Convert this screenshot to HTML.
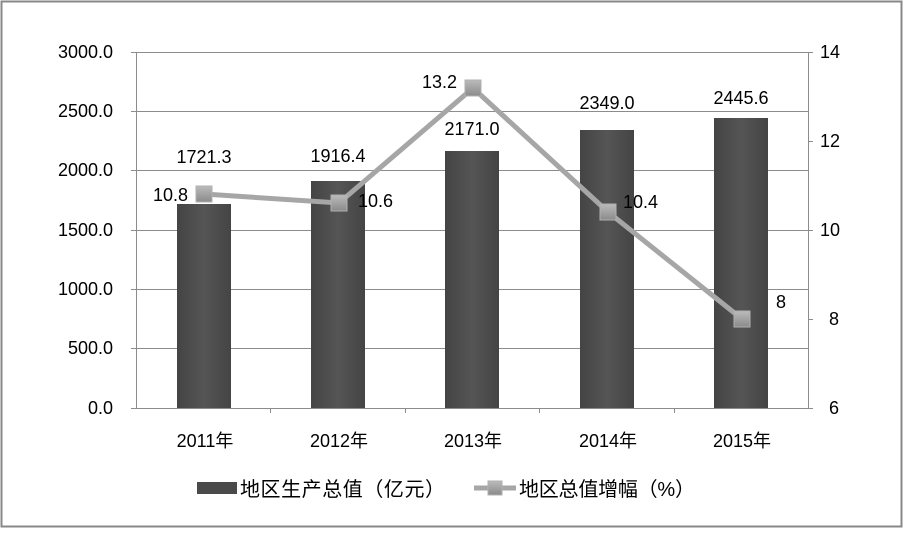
<!DOCTYPE html>
<html><head><meta charset="utf-8"><style>
body{margin:0;background:#fff}
svg text{font-family:"Liberation Sans","Noto Sans CJK SC",sans-serif;font-size:18px;fill:#000}
</style></head><body>
<svg width="903" height="528" xmlns="http://www.w3.org/2000/svg">
<defs>
<linearGradient id="bg" x1="0" x2="1"><stop offset="0" stop-color="#444"/><stop offset="0.5" stop-color="#555"/><stop offset="1" stop-color="#444"/></linearGradient>
<linearGradient id="mg" x1="0" y1="0" x2="0" y2="1"><stop offset="0" stop-color="#bbb"/><stop offset="1" stop-color="#8a8a8a"/></linearGradient>
</defs>
<rect x="1.5" y="1.5" width="900" height="525" fill="#fff" stroke="#888" stroke-width="2"/>
<g stroke="#8c8c8c" stroke-width="1">
<line x1="136" y1="52.5" x2="808" y2="52.5"/>
<line x1="136" y1="111.5" x2="808" y2="111.5"/>
<line x1="136" y1="170.5" x2="808" y2="170.5"/>
<line x1="136" y1="230.5" x2="808" y2="230.5"/>
<line x1="136" y1="289.5" x2="808" y2="289.5"/>
<line x1="136" y1="348.5" x2="808" y2="348.5"/>
<line x1="131" y1="408.5" x2="808" y2="408.5"/>
<line x1="136.5" y1="52" x2="136.5" y2="408"/>
<line x1="808.5" y1="52" x2="808.5" y2="408"/>
<g>
<line x1="131" y1="52.5" x2="136" y2="52.5"/><line x1="131" y1="111.5" x2="136" y2="111.5"/><line x1="131" y1="170.5" x2="136" y2="170.5"/><line x1="131" y1="230.5" x2="136" y2="230.5"/><line x1="131" y1="289.5" x2="136" y2="289.5"/><line x1="131" y1="348.5" x2="136" y2="348.5"/>
<line x1="808" y1="52.5" x2="813" y2="52.5"/><line x1="808" y1="141.5" x2="813" y2="141.5"/><line x1="808" y1="230.5" x2="813" y2="230.5"/><line x1="808" y1="319.5" x2="813" y2="319.5"/><line x1="808" y1="408.5" x2="813" y2="408.5"/>
<line x1="270.5" y1="408" x2="270.5" y2="413"/><line x1="405.5" y1="408" x2="405.5" y2="413"/><line x1="539.5" y1="408" x2="539.5" y2="413"/><line x1="674.5" y1="408" x2="674.5" y2="413"/>
</g>
</g>
<g fill="url(#bg)">
<rect x="177" y="204" width="54" height="204"/>
<rect x="311" y="181" width="54" height="227"/>
<rect x="445" y="151" width="54" height="257"/>
<rect x="580" y="130" width="54" height="278"/>
<rect x="714" y="118" width="54" height="290"/>
</g>
<g text-anchor="end">
<text x="113" y="58">3000.0</text><text x="113" y="117">2500.0</text><text x="113" y="176">2000.0</text><text x="113" y="236">1500.0</text><text x="113" y="295">1000.0</text><text x="113" y="354">500.0</text><text x="113" y="414">0.0</text>
</g>
<g>
<text x="820" y="58">14</text><text x="820" y="147">12</text><text x="820" y="236">10</text><text x="829" y="325">8</text><text x="829" y="414">6</text>
</g>
<g text-anchor="middle">
<text x="205" y="447">2011年</text><text x="339" y="447">2012年</text><text x="473" y="447">2013年</text><text x="608" y="447">2014年</text><text x="742" y="447">2015年</text>
<text x="204" y="163">1721.3</text><text x="338" y="162">1916.4</text><text x="472" y="135">2171.0</text><text x="607" y="109">2349.0</text><text x="741" y="104">2445.6</text>
</g>
<polyline points="204,194 339,203 473,88 608,212 742,319" fill="none" stroke="#a6a6a6" stroke-width="5"/>
<g fill="url(#mg)" stroke="#b0b0b0" stroke-width="1">
<rect x="196" y="186" width="16" height="16"/><rect x="331" y="195" width="16" height="16"/><rect x="465" y="80" width="16" height="16"/><rect x="600" y="204" width="16" height="16"/><rect x="734" y="311" width="16" height="16"/>
</g>
<text x="153" y="201">10.8</text><text x="358" y="207">10.6</text><text x="422" y="88">13.2</text><text x="623" y="208">10.4</text><text x="776" y="308">8</text>
<rect x="197" y="482" width="40" height="12" fill="#4a4a4a"/>
<text x="240" y="496" font-size="20" style="font-size:20px" textLength="205">地区生产总值（亿元）</text>
<line x1="474" y1="488" x2="516" y2="488" stroke="#a6a6a6" stroke-width="5"/>
<rect x="488" y="481" width="14" height="14" fill="url(#mg)" stroke="#b0b0b0"/>
<text x="519" y="496" style="font-size:20px" textLength="176">地区总值增幅（%）</text>
</svg>
</body></html>
